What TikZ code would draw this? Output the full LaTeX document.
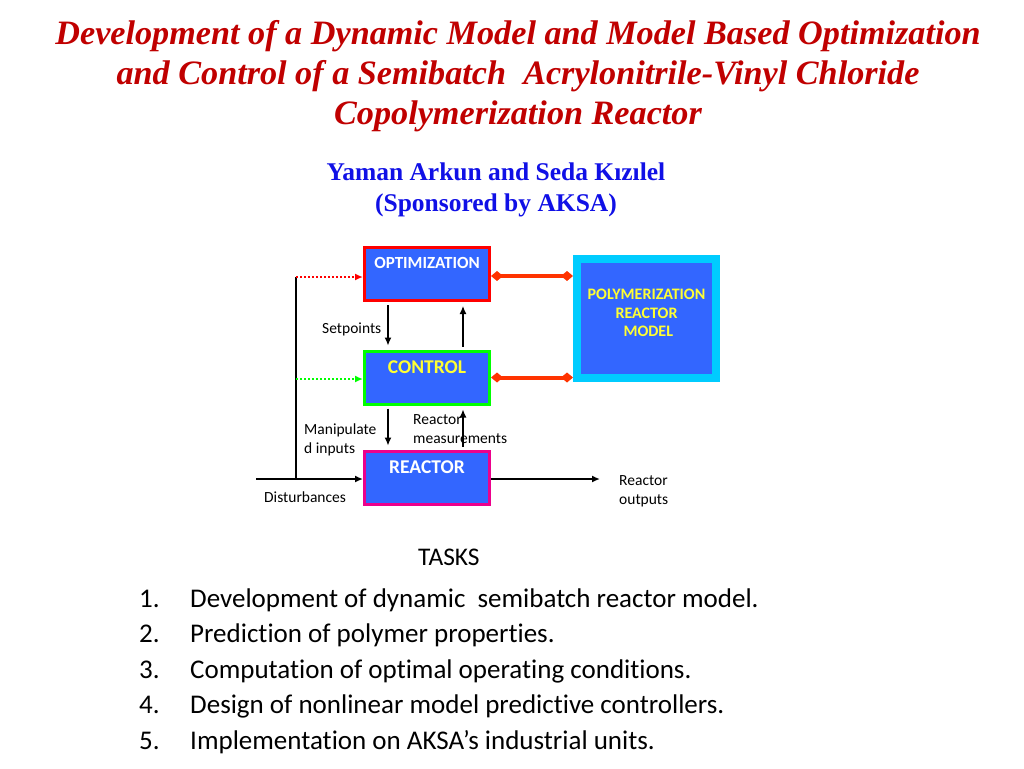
\documentclass[tikz,border=0pt]{standalone}
\usepackage{fontspec}
\setmainfont{Liberation Serif}
\newfontfamily\calibri[Ligatures=NoCommon]{Carlito}
\usetikzlibrary{arrows.meta,positioning}
\definecolor{boxblue}{RGB}{51,102,255}
\definecolor{titlered}{RGB}{192,0,0}
\definecolor{authblue}{RGB}{16,16,230}
\definecolor{linkred}{RGB}{255,51,0}
\definecolor{txtyellow}{RGB}{255,255,51}
\definecolor{modelcyan}{RGB}{0,204,255}
\definecolor{ctrlgreen}{RGB}{0,255,0}
\tikzset{
  block/.style={draw, fill=boxblue, line width=3pt, minimum width=125pt, minimum height=53pt, inner sep=0pt},
  blocktext/.style={anchor=north, yshift=-7.5pt, font=\calibri\bfseries\fontsize{19.5}{22}\selectfont},
  lbl/.style={font=\calibri\fontsize{15.5}{19}\selectfont, anchor=base west, inner sep=0pt},
  sig/.style={-{Latex[length=8pt,width=7pt]}, line width=1.3pt},
  feed/.style={-{Latex[length=8pt,width=7pt]}, line width=2.5pt, dash pattern=on 2pt off 2pt},
  link/.style={{Diamond[length=12pt,width=10pt]}-{Diamond[length=12pt,width=10pt]}, linkred, line width=4pt},
}
\begin{document}
\begin{tikzpicture}[x=1pt,y=-1pt]
  \useasboundingbox (0,0) rectangle (1024,768);
  % title
  \node (title) at (518,76) [align=center, text=titlered, font=\bfseries\itshape\fontsize{34.2}{40}\selectfont] {Development of a Dynamic Model and Model Based Optimization\\and Control of a Semibatch\ \ Acrylonitrile-Vinyl Chloride\\Copolymerization Reactor};
  \node (authors) at (496,190) [align=center, text=authblue, font=\bfseries\fontsize{25.5}{31}\selectfont] {Yaman Arkun and Seda Kızılel\\(Sponsored by AKSA)};

  % blocks
  \node [block, draw=red, label={[blocktext, text=white, font=\calibri\bfseries\fontsize{17}{19}\selectfont]north:OPTIMIZATION}] (opt) at (427,274) {};
  \node [block, draw=ctrlgreen, label={[blocktext, text=txtyellow]north:CONTROL}] (ctrl) at (427,377.5) {};
  \node [block, draw=magenta, label={[blocktext, text=white]north:REACTOR}] (reac) at (427,477.5) {};
  \node [draw=modelcyan, fill=boxblue, line width=8pt, minimum width=139pt, minimum height=119pt, inner sep=0pt,
    label={[align=center, yshift=5.5pt, text=txtyellow, font=\calibri\bfseries\fontsize{16}{18.5}\selectfont]center:POLYMERIZATION\\REACTOR\\\ MODEL}] (model) at (646.5,318.5) {};

  % model links
  \draw [link] ([yshift=-2pt]opt.east) -- ([yshift=-2pt]opt.east -| model.west);
  \draw [link] (ctrl.east) -- (ctrl.east -| model.west);

  % disturbance line and feeds
  \coordinate (dIn) at (256,479);
  \coordinate (dTop) at (296,277);
  \coordinate (dBot) at (296,479);
  \coordinate (rOut) at (600,479);
  \draw [line width=2.5pt] (dTop) -- (dBot);
  \draw [sig, line width=2.5pt] (dIn) -- (dIn -| reac.west);
  \draw [sig, line width=2.5pt] (reac.east |- rOut) -- (rOut);
  \draw [feed, red] (dTop) -- (dTop -| opt.west);
  \draw [feed, ctrlgreen] (296,379) -- (ctrl.west |- 0,379);

  % signals between blocks
  \draw [sig, shorten <=3pt, shorten >=4pt] ([xshift=-39pt]opt.south) -- ([xshift=-39pt]ctrl.north);
  \draw [sig, shorten <=3pt, shorten >=4pt] ([xshift=36pt]ctrl.north) -- ([xshift=36pt]opt.south);
  \draw [sig, shorten <=3pt, shorten >=4pt] ([xshift=-39pt]ctrl.south) -- ([xshift=-39pt]reac.north);
  \draw [sig, shorten <=3pt, shorten >=4pt] ([xshift=36pt]reac.north) -- ([xshift=36pt]ctrl.south);

  % labels
  \node [lbl] (setp) at (322,333) {Setpoints};
  \node [lbl] (manip1) at (304,434) {Manipulate};
  \node [lbl] (manip2) at (304,453) {d inputs};
  \node [lbl] (meas1) at (413,424) {Reactor};
  \node [lbl] (meas2) at (413,443) {measurements};
  \node [lbl] (dist) at (264,502) {Disturbances};
  \node [lbl] (outs1) at (619,485) {Reactor};
  \node [lbl] (outs2) at (619,504) {outputs};

  % tasks
  \node [font=\calibri\fontsize{25.4}{28}\selectfont, anchor=base west, inner sep=0pt] (tasks) at (418,565) {TASKS};
  \foreach \n/\txt [count=\i from 0] in {1/Development of dynamic\ \ semibatch reactor model.,
      2/Prediction of polymer properties.,
      3/Computation of optimal operating conditions.,
      4/Design of nonlinear model predictive controllers.,
      5/Implementation on AKSA’s industrial units.} {
    \node [font=\calibri\fontsize{27}{30}\selectfont, anchor=base west, inner sep=0pt] (num\n) at (139,607+35.5*\i) {\n.};
    \node [font=\calibri\fontsize{27}{30}\selectfont, anchor=base west, inner sep=0pt] (task\n) at (190,607+35.5*\i) {\txt};
  }
\end{tikzpicture}
\end{document}
